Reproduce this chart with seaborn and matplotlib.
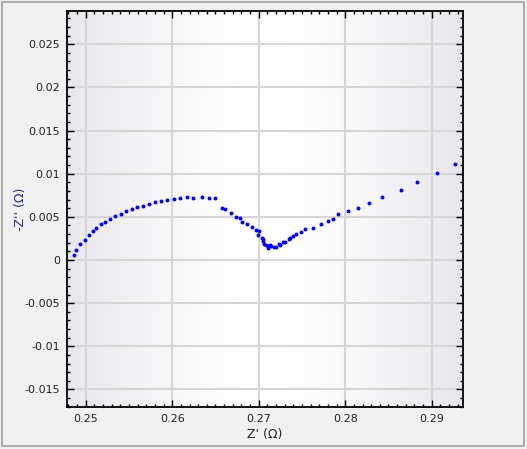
import numpy as np
import pandas as pd
import matplotlib
matplotlib.use("Agg")
import matplotlib.pyplot as plt
import seaborn as sns
from matplotlib.ticker import MultipleLocator, FuncFormatter
from matplotlib.patches import Rectangle

# impedance data (ohm)
z_real = [0.24861, 0.24888, 0.24934, 0.24992, 0.25038, 0.25081, 0.25119, 0.25173,
          0.25223, 0.25281, 0.25339, 0.25405, 0.25466, 0.25532, 0.25593, 0.25662,
          0.25732, 0.25798, 0.25867, 0.25936, 0.26017, 0.26090, 0.26171, 0.26240,
          0.26348, 0.26425, 0.26495, 0.26576, 0.26614, 0.26680, 0.26738, 0.26784,
          0.26807, 0.26865, 0.26919, 0.26965, 0.27003, 0.26995, 0.27042, 0.27046,
          0.27050, 0.27061, 0.27084, 0.27108, 0.27111, 0.27127, 0.27146, 0.27173,
          0.27197, 0.27235, 0.27250, 0.27281, 0.27304, 0.27350, 0.27365, 0.27397,
          0.27431, 0.27486, 0.27535, 0.27628, 0.27720, 0.27801, 0.27859, 0.27917,
          0.28032, 0.28148, 0.28275, 0.28425, 0.28645, 0.28830, 0.29061, 0.29269]
z_imag = [0.00058, 0.00115, 0.00185, 0.00234, 0.00289, 0.00335, 0.00370, 0.00416,
          0.00443, 0.00473, 0.00508, 0.00535, 0.00566, 0.00589, 0.00612, 0.00627,
          0.00650, 0.00670, 0.00681, 0.00693, 0.00704, 0.00720, 0.00727, 0.00716,
          0.00727, 0.00716, 0.00716, 0.00608, 0.00585, 0.00543, 0.00497, 0.00481,
          0.00443, 0.00416, 0.00381, 0.00346, 0.00335, 0.00285, 0.00258, 0.00239,
          0.00219, 0.00188, 0.00173, 0.00158, 0.00135, 0.00169, 0.00162, 0.00154,
          0.00154, 0.00181, 0.00169, 0.00204, 0.00208, 0.00242, 0.00254, 0.00277,
          0.00296, 0.00323, 0.00358, 0.00370, 0.00416, 0.00450, 0.00473, 0.00531,
          0.00566, 0.00600, 0.00658, 0.00727, 0.00808, 0.00901, 0.01005, 0.01109]

df = pd.DataFrame({"zr": z_real, "zi": z_imag})

xlim = (0.2478, 0.29358)
ylim = (-0.017, 0.02885)

fig = plt.figure(figsize=(5.27, 4.49), dpi=100, facecolor="#f0f0f0")
fig.patches.append(Rectangle((2 / 527, 3 / 449), 522 / 527, 444 / 449,
                             transform=fig.transFigure, fill=False,
                             edgecolor="#a0a0a0", linewidth=1.2))
ax = fig.add_axes([0.1266, 0.0942, 0.7514, 0.8813])

# horizontal gradient background: grey at the sides, white in the middle
t = np.linspace(-1, 1, 400)
w = np.abs(t) ** 1.6
edge = np.array([231, 231, 236]) / 255.0
grad = (1 - w[:, None]) * 1.0 + w[:, None] * edge[None, :]
ax.imshow(grad[None, :, :], extent=[xlim[0], xlim[1], ylim[0], ylim[1]],
          aspect="auto", zorder=0)

sns.scatterplot(data=df, x="zr", y="zi", ax=ax, color="#0000ff", s=8,
                marker="o", linewidth=0, zorder=3)

ax.set_xlim(xlim)
ax.set_ylim(ylim)
ax.xaxis.set_major_locator(MultipleLocator(0.01))
ax.xaxis.set_minor_locator(MultipleLocator(0.001))
ax.yaxis.set_major_locator(MultipleLocator(0.005))
ax.yaxis.set_minor_locator(MultipleLocator(0.001))
ax.yaxis.set_major_formatter(FuncFormatter(lambda v, p: f"{round(v, 4) + 0:g}"))
ax.xaxis.set_major_formatter(FuncFormatter(lambda v, p: f"{round(v, 4):g}"))

ax.grid(True, which="major", color="#d6d6d6", linewidth=1.5, zorder=1)
ax.set_axisbelow(True)
ax.tick_params(which="both", direction="in", top=True, right=True,
               color="black", labelsize=8, labelcolor="#222222")
ax.tick_params(which="major", length=5, width=1, pad=5)
ax.tick_params(which="minor", length=2.5, width=1)
for s in ax.spines.values():
    s.set_linewidth(1.3)
    s.set_color("black")

ax.set_xlabel("Z' (Ω)", fontsize=9, color="#222222", labelpad=3)
ax.set_ylabel("-Z'' (Ω)", fontsize=9, color="#2a2a80")
ax.yaxis.set_label_coords(-0.10, 0.5)

fig.savefig("out.png", dpi=100, facecolor=fig.get_facecolor())
